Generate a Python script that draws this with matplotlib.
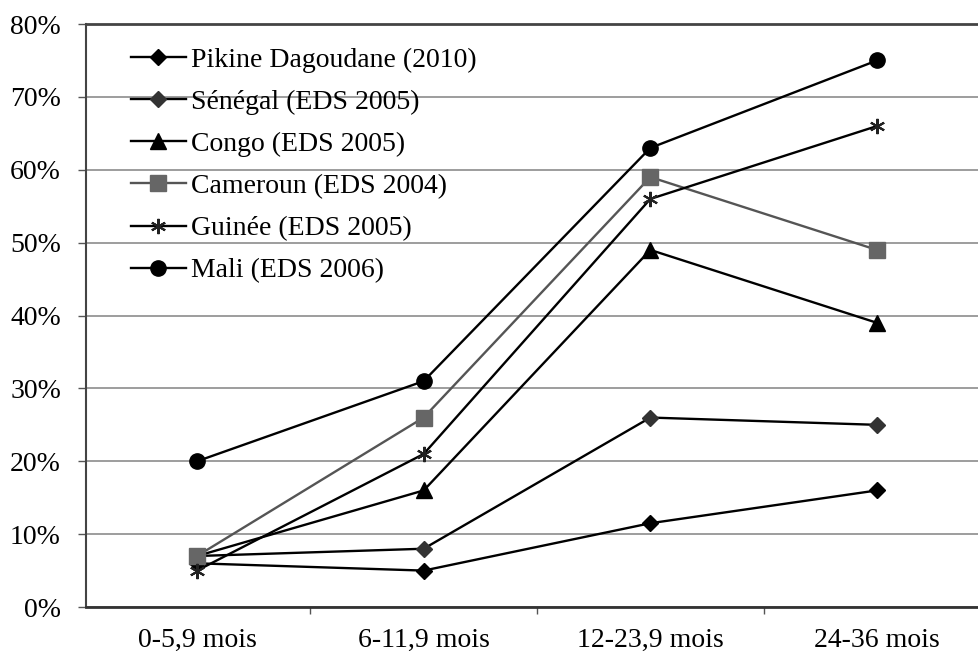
import matplotlib
matplotlib.use("Agg")
import matplotlib.pyplot as plt
import numpy as np

categories = ["0-5,9 mois", "6-11,9 mois", "12-23,9 mois", "24-36 mois"]
pikine = [6, 5, 11.5, 16]
senegal = [7, 8, 26, 25]
congo = [7, 16, 49, 39]
cameroun = [7, 26, 59, 49]
guinee = [5, 21, 56, 66]
mali = [20, 31, 63, 75]
labels = ["Pikine Dagoudane (2010)", "Sénégal (EDS 2005)", "Congo (EDS 2005)",
          "Cameroun (EDS 2004)", "Guinée (EDS 2005)", "Mali (EDS 2006)"]
yticks = [0, 10, 20, 30, 40, 50, 60, 70, 80]

plt.rcParams['font.family'] = ['Liberation Serif', 'DejaVu Serif']

fig = plt.figure(figsize=(9.79, 6.53), dpi=100)
ax = fig.add_axes([0.0878, 0.0704, 0.9122, 0.8928])

x = np.arange(len(categories))
series = [pikine, senegal, congo, cameroun, guinee, mali]
styles = [
    dict(marker="D", color="black", mfc="black", mec="black", ms=8, lw=1.7),
    dict(marker="D", color="black", mfc="#333333", mec="#333333", ms=8, lw=1.7),
    dict(marker="^", color="black", mfc="black", mec="black", ms=12, lw=1.7),
    dict(marker="s", color="#555555", mfc="#666666", mec="#666666", ms=11, lw=1.7),
    dict(marker=(6, 2, 0), color="black", mfc="black", mec="#222222", ms=11, lw=1.7, mew=1.5),
    dict(marker="o", color="black", mfc="black", mec="black", ms=11, lw=1.7),
]
for vals, lab, st in zip(series, labels, styles):
    ax.plot(x, vals, label=lab, **st)

ax.set_ylim(0, 80)
ax.set_xlim(-0.49, 3.45)
ax.set_yticks(yticks)
ax.set_yticklabels([f"{v}%" for v in yticks], fontsize=20)
ax.set_xticks(x)
ax.set_xticklabels(categories, fontsize=20)
ax.set_xticks([0.5, 1.5, 2.5], minor=True)
ax.tick_params(axis='x', which='major', length=0, pad=15)
ax.tick_params(axis='x', which='minor', length=5, width=1, color="#555555")
ax.tick_params(axis='y', length=6, width=1, color="#555555", pad=12)
ax.yaxis.grid(True, color="#8c8c8c", lw=1.2)
ax.set_axisbelow(True)
ax.spines["right"].set_visible(False)
ax.spines["top"].set_color("#444444")
ax.spines["top"].set_linewidth(2)
ax.spines["bottom"].set_color("#333333")
ax.spines["bottom"].set_linewidth(2)
ax.spines["left"].set_color("#444444")
ax.spines["left"].set_linewidth(1.5)

leg = ax.legend(loc="upper left", bbox_to_anchor=(0.05, 0.96), frameon=False,
                fontsize=20, handlelength=2.0, handletextpad=0.18, labelspacing=0.6,
                borderaxespad=0, borderpad=0)

fig.savefig("out.png", dpi=100)
